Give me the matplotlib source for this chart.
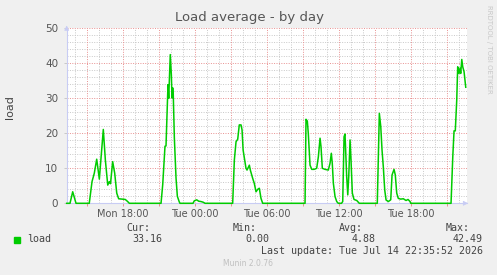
import matplotlib
matplotlib.use('Agg')
import matplotlib.pyplot as plt
import numpy as np

# hours relative to Tue 00:00, load average
hours = [-10.65, -10.375, -10.15, -9.875, -8.77, -8.54, -8.35, -8.15, -7.93, -7.6,
         -7.43, -7.23, -7.1, -7.0, -6.82, -6.65, -6.48, -6.32, -6.04, -5.77,
         -5.57, -5.43, -2.79, -2.65, -2.46, -2.375, -2.21, -2.15, -2.02, -1.93,
         -1.875, -1.82, -1.77, -1.68, -1.54, -1.43, -1.27, -1.21, -0.125, -0.02,
         0.18, 0.35, 0.54, 0.73, 0.875, 3.18, 3.32, 3.46, 3.6, 3.73,
         3.875, 3.96, 4.05, 4.29, 4.375, 4.57, 4.65, 4.85, 4.98, 5.125,
         5.27, 5.4, 5.54, 5.68, 9.21, 9.29, 9.4, 9.48, 9.625, 9.77,
         9.96, 10.18, 10.32, 10.46, 10.54, 10.65, 10.875, 11.15, 11.29, 11.4,
         11.48, 11.57, 11.71, 11.85, 11.98, 12.25, 12.35, 12.46, 12.54, 12.68,
         12.77, 12.85, 12.96, 13.04, 13.15, 13.29, 13.52, 13.73, 15.23, 15.4,
         15.52, 15.625, 15.73, 15.85, 15.96, 16.15, 16.35, 16.46, 16.625, 16.73,
         16.85, 16.98, 17.18, 17.4, 17.625, 17.79, 17.96, 18.02, 21.375, 21.52,
         21.625, 21.73, 21.85, 21.93, 22.04, 22.125, 22.18, 22.27, 22.35, 22.46,
         22.6]
load = [0, 0, 3.3, 0, 0, 6.2, 8.6, 12.6, 6.9, 21.1,
        12.4, 5.2, 6.2, 5.6, 11.9, 8.6, 2.9, 1.3, 1.2, 1.1,
        0.5, 0, 0, 5.3, 16.3, 16.4, 33.9, 30.0, 42.49, 36.7,
        30.1, 33.0, 31.0, 18.7, 7.2, 2.0, 0.4, 0, 0, 0.7,
        1.0, 0.6, 0.5, 0.3, 0, 0, 12.4, 17.6, 18.3, 22.4,
        22.4, 21.0, 15.2, 10.0, 9.5, 10.9, 9.5, 7.1, 5.7, 3.3,
        4.0, 4.3, 1.4, 0, 0, 24.0, 23.5, 20.0, 10.9, 9.7,
        9.7, 10.0, 13.3, 18.6, 16.2, 10.0, 9.7, 9.5, 11.4, 14.3,
        11.4, 5.7, 1.9, 0.5, 0, 0, 0.5, 19.0, 19.8, 7.6,
        2.4, 7.6, 18.1, 12.4, 2.9, 1.1, 0.8, 0, 0, 25.7,
        21.9, 15.2, 10.5, 3.8, 0.95, 0.5, 1.0, 8.1, 9.7, 8.1,
        2.9, 1.4, 1.2, 1.3, 0.8, 1.1, 0.5, 0, 0, 13.3,
        20.7, 20.7, 29.5, 39.0, 37.1, 38.6, 37.1, 41.1, 39.0, 37.6,
        33.16]

tick_hours = [-6, 0, 6, 12, 18]
tick_labels = ['Mon 18:00', 'Tue 00:00', 'Tue 06:00', 'Tue 12:00', 'Tue 18:00']

stat_names = ['Cur:', 'Min:', 'Avg:', 'Max:']
stat_values = ['33.16', '0.00', '4.88', '42.49']
last_update = 'Last update: Tue Jul 14 22:35:52 2026'

W, H = 497, 275
fig = plt.figure(figsize=(W / 100, H / 100), dpi=100, facecolor='#f0f0f0')
ax = fig.add_axes([66.7 / W, 71.7 / H, 400 / W, 175 / H])
ax.set_facecolor('white')

xmin, xmax = -10.65, 22.68
ax.set_xlim(xmin, xmax)
ax.set_ylim(0, 50)

# grid: minor grey, major light red
for h in np.arange(-10, 23, 1):
    c, z = ('#e89090', 1) if h % 3 == 0 else ('#c8c8c8', 0.5)
    ax.axvline(h, color=c, lw=0.7, ls=(0, (1, 1.5)), zorder=z)
for v in np.arange(2, 51, 2):
    c, z = ('#e89090', 1) if v % 10 == 0 else ('#c8c8c8', 0.5)
    ax.axhline(v, color=c, lw=0.7, ls=(0, (1, 1.5)), zorder=z)

ax.plot(hours, load, color='#00cc00', lw=1.1, zorder=3, clip_on=False)

for s in ['top', 'right']:
    ax.spines[s].set_visible(False)
for s in ['left', 'bottom']:
    ax.spines[s].set_color('#c8ccf4')
    ax.spines[s].set_linewidth(0.8)

ax.set_xticks(np.arange(-9, 22, 3))
ax.set_xticklabels([tick_labels[tick_hours.index(h)] if h in tick_hours else ''
                    for h in np.arange(-9, 22, 3)])
ax.set_yticks(np.arange(0, 51, 10))
ax.tick_params(axis='x', length=2, width=0.7, color='#e89090', pad=2,
               labelsize=7, labelcolor='#555555')
ax.tick_params(axis='y', length=2, width=0.7, color='#c8c8c8', pad=4,
               labelsize=7.5, labelcolor='#555555')

# axis arrows
ax.annotate('', xy=(xmax + 0.35, 0), xytext=(xmax - 0.3, 0),
            arrowprops=dict(arrowstyle='-|>', color='#c8ccf4', lw=0.6,
                            mutation_scale=7), annotation_clip=False)
ax.annotate('', xy=(xmin, 51.6), xytext=(xmin, 49),
            arrowprops=dict(arrowstyle='-|>', color='#c8ccf4', lw=0.6,
                            mutation_scale=7), annotation_clip=False)

fig.text(250 / W, 1 - 18 / H, 'Load average - by day', ha='center', va='center',
         fontsize=9.5, color='#555555')
fig.text(10 / W, 1 - 107 / H, 'load', rotation=90, ha='center', va='center',
         fontsize=8, color='#444444')
fig.text(489 / W, 1 - 5 / H, 'RRDTOOL / TOBI OETIKER', rotation=270,
         ha='center', va='top', fontsize=5, color='#c8c8c8')

mono = dict(family='DejaVu Sans Mono', fontsize=7.2, color='#444444')
fig.patches.append(plt.Rectangle((14 / W, 1 - 243 / H), 6 / W, 6 / H,
                                 transform=fig.transFigure, color='#00cc00'))
fig.text(27 / W, 1 - 239.5 / H, 'load', ha='left', va='center', **mono)
name_right = [150, 257, 363, 470]
value_right = [162, 269, 376, 483]
for name, val, nr, vr in zip(stat_names, stat_values, name_right, value_right):
    fig.text(nr / W, 1 - 228 / H, name, ha='right', va='center', **mono)
    fig.text(vr / W, 1 - 239.5 / H, val, ha='right', va='center', **mono)
fig.text(483 / W, 1 - 251 / H, last_update, ha='right', va='center', **mono)
fig.text(248 / W, 1 - 263 / H, 'Munin 2.0.76', ha='center', va='center',
         fontsize=5.5, color='#c0c0c0')

fig.savefig('out.png', dpi=100, facecolor=fig.get_facecolor())
